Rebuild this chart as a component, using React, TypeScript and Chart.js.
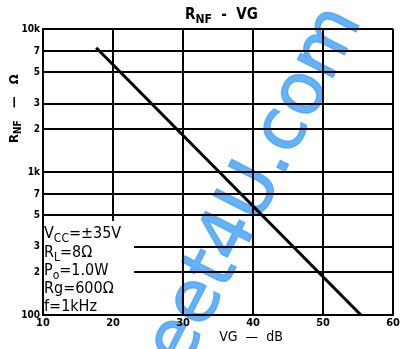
import React, { useEffect, useRef } from "react";
import { Chart, registerables } from "chart.js";

Chart.register(...registerables);

// ---- data ----
const vgValues = [17.6, 55.4];
const rnfValues = [7400, 100];
const xTickValues = [10, 20, 30, 40, 50, 60];
const yTickValues = [100, 200, 300, 500, 700, 1000, 2000, 3000, 5000, 7000, 10000];
const yTickLabels = ["100", "2", "3", "5", "7", "1k", "2", "3", "5", "7", "10k"];
const conditionMain = ["V", "R", "P", "Rg=600Ω", "f=1kHz"];
const conditionSub = ["CC", "L", "o", "", ""];
const conditionRest = ["=±35V", "=8Ω", "=1.0W", "", ""];
const titleMain = "R";
const titleSub = "NF";
const titleRest = "  -  VG";
const yLabelMain = "R";
const yLabelSub = "NF";
const yLabelRest = "   —   Ω";
const xLabel = "VG  —  dB";
const watermark = "www.alldatasheet4U.com";

const COND = "'DejaVu Sans Condensed', 'Liberation Sans Narrow', 'DejaVu Sans', sans-serif";

function drawSubText(
  ctx: CanvasRenderingContext2D,
  x: number,
  y: number,
  main: string,
  sub: string,
  rest: string,
  size: number,
  subSize: number,
  subDy: number,
  weight: string
) {
  ctx.font = `${weight} ${size}px ${COND}`;
  ctx.fillText(main, x, y);
  let cx = x + ctx.measureText(main).width;
  if (sub) {
    ctx.font = `${weight} ${subSize}px ${COND}`;
    ctx.fillText(sub, cx, y + subDy);
    cx += ctx.measureText(sub).width;
  }
  if (rest) {
    ctx.font = `${weight} ${size}px ${COND}`;
    ctx.fillText(rest, cx, y);
  }
}

const overlayPlugin = {
  id: "overlay",
  beforeDraw(chart: any) {
    const ctx = chart.ctx as CanvasRenderingContext2D;
    ctx.save();
    ctx.translate(345, 12);
    ctx.rotate((-63 * Math.PI) / 180);
    ctx.font = `normal 72px 'DejaVu Sans', sans-serif`;
    ctx.textAlign = "right";
    ctx.textBaseline = "middle";
    ctx.fillStyle = "rgba(75,165,248,0.85)";
    ctx.strokeStyle = "rgba(75,165,248,0.85)";
    ctx.lineWidth = 1.5;
    ctx.fillText(watermark, 0, 0);
    ctx.strokeText(watermark, 0, 0);
    ctx.restore();
  },
  afterDatasetsDraw(chart: any) {
    const ctx = chart.ctx as CanvasRenderingContext2D;
    const a = chart.chartArea;
    ctx.save();
    ctx.fillStyle = "#fff";
    ctx.fillRect(a.left + 1, a.bottom - 94, 90, 93);
    ctx.fillStyle = "#000";
    ctx.textAlign = "left";
    ctx.textBaseline = "alphabetic";
    const baselines = [-77, -58, -40, -22, -4];
    for (let i = 0; i < conditionMain.length; i++) {
      drawSubText(ctx, a.left + 1, a.bottom + baselines[i], conditionMain[i], conditionSub[i], conditionRest[i], 16, 12, 4, "normal");
    }
    ctx.restore();
  },
  afterDraw(chart: any) {
    const ctx = chart.ctx as CanvasRenderingContext2D;
    const a = chart.chartArea;
    ctx.save();
    ctx.fillStyle = "#000";
    ctx.textBaseline = "alphabetic";
    ctx.textAlign = "left";
    drawSubText(ctx, 185, 19, titleMain, titleSub, titleRest, 15, 12, 4, "bold");
    ctx.font = `normal 14px ${COND}`;
    ctx.textAlign = "center";
    ctx.fillText(xLabel, 251, a.bottom + 26);
    ctx.translate(18, 143);
    ctx.rotate(-Math.PI / 2);
    ctx.textAlign = "left";
    drawSubText(ctx, 0, 0, yLabelMain, yLabelSub, yLabelRest, 13, 10, 3, "bold");
    ctx.restore();
  },
};

export default function App() {
  const ref = useRef<HTMLCanvasElement>(null);
  useEffect(() => {
    if (!ref.current) return;
    const chart = new Chart(ref.current, {
      type: "scatter",
      data: {
        datasets: [
          {
            data: vgValues.map((x, i) => ({ x, y: rnfValues[i] })),
            showLine: true,
            borderColor: "#000",
            borderWidth: 3,
            pointRadius: 0,
            fill: false,
          },
        ],
      },
      options: {
        animation: false,
        responsive: false,
        maintainAspectRatio: false,
        layout: { padding: { top: 29, right: 3, left: 0, bottom: 0 } },
        plugins: {
          legend: { display: false },
          title: { display: false },
          tooltip: { enabled: false },
        },
        scales: {
          x: {
            type: "linear",
            min: 10,
            max: 60,
            afterBuildTicks: (s: any) => {
              s.ticks = xTickValues.map((v) => ({ value: v }));
            },
            afterFit: (s: any) => {
              s.height = 34;
            },
            grid: { color: "#000", lineWidth: 2, drawTicks: false },
            border: { color: "#000", width: 2 },
            ticks: {
              color: "#000",
              padding: 2,
              maxRotation: 0,
              autoSkip: false,
              font: { family: COND, size: 11, weight: "bold" },
            },
          },
          y: {
            type: "logarithmic",
            min: 100,
            max: 10000,
            afterBuildTicks: (s: any) => {
              s.ticks = yTickValues.map((v) => ({ value: v }));
            },
            afterFit: (s: any) => {
              s.width = 43;
            },
            grid: { color: "#000", lineWidth: 2, drawTicks: false },
            border: { color: "#000", width: 2 },
            ticks: {
              color: "#000",
              padding: 3,
              autoSkip: false,
              font: { family: COND, size: 10, weight: "bold" },
              callback: (v: any) => {
                const i = yTickValues.indexOf(Number(v));
                return i >= 0 ? yTickLabels[i] : "";
              },
            },
          },
        },
      },
      plugins: [overlayPlugin],
    } as any);
    return () => chart.destroy();
  }, []);
  return (
    <div style={{ position: "fixed", left: 0, top: 0, width: 402, height: 349, background: "#fff" }}>
      <canvas ref={ref} width={402} height={349} style={{ display: "block", width: 402, height: 349 }} />
    </div>
  );
}
